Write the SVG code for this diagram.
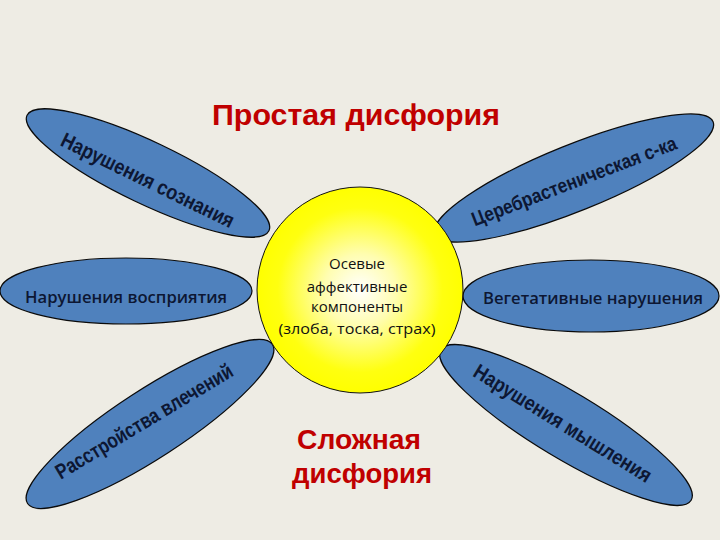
<svg xmlns="http://www.w3.org/2000/svg" width="720" height="540" viewBox="0 0 720 540">
<defs>
<radialGradient id="sun" cx="50%" cy="50%" r="50%">
<stop offset="0" stop-color="#ffffff"/>
<stop offset="0.35" stop-color="#fffdb0"/>
<stop offset="0.8" stop-color="#ffff10"/>
<stop offset="1" stop-color="#ffff00"/>
</radialGradient>
<style>
.petal{fill:#4f81bd;stroke:#0a0a0a;stroke-width:1.2}
.pt{font-family:"Liberation Sans","DejaVu Sans",sans-serif;font-weight:bold;fill:#0d1733;text-anchor:middle;dominant-baseline:central}
.ht{font-family:"Open Sans","Liberation Sans",sans-serif;font-weight:600;fill:#0d1733;text-anchor:middle;dominant-baseline:central}
.title{font-family:"Liberation Sans","DejaVu Sans",sans-serif;font-weight:bold;fill:#c00000;text-anchor:middle}
.ct{font-family:"Open Sans","Liberation Sans",sans-serif;fill:#111;text-anchor:middle;font-size:15px}
</style>
</defs>
<rect width="720" height="540" fill="#eeece4"/>
<g id="petal-consciousness">
<ellipse class="petal" cx="148" cy="173" rx="134" ry="31" transform="rotate(25.5 148 173)"/>
<text class="pt" x="148" y="180" font-size="21" transform="rotate(26 148 180)" textLength="190" lengthAdjust="spacingAndGlyphs">Нарушения сознания</text>
</g>
<g id="petal-cerebrasthenic">
<ellipse class="petal" cx="574" cy="178" rx="150" ry="33" transform="rotate(-22 574 178)"/>
<text class="pt" x="574" y="181" font-size="20" transform="rotate(-21 574 181)" textLength="218" lengthAdjust="spacingAndGlyphs">Церебрастеническая с-ка</text>
</g>
<g id="petal-perception">
<ellipse class="petal" cx="126" cy="291" rx="126" ry="33"/>
<text class="ht" x="126" y="296" font-size="17" textLength="202" lengthAdjust="spacingAndGlyphs">Нарушения восприятия</text>
</g>
<g id="petal-vegetative">
<ellipse class="petal" cx="591" cy="296" rx="128" ry="36"/>
<text class="ht" x="593" y="297" font-size="17" textLength="220" lengthAdjust="spacingAndGlyphs">Вегетативные нарушения</text>
</g>
<g id="petal-drives">
<ellipse class="petal" cx="150" cy="424" rx="146" ry="34" transform="rotate(-33 150 424)"/>
<text class="pt" x="144" y="421" font-size="21" transform="rotate(-31 144 421)" textLength="203" lengthAdjust="spacingAndGlyphs">Расстройства влечений</text>
</g>
<g id="petal-thinking">
<ellipse class="petal" cx="566" cy="425" rx="146" ry="33" transform="rotate(31 566 425)"/>
<text class="pt" x="563" y="423" font-size="21" transform="rotate(31.7 563 423)" textLength="205" lengthAdjust="spacingAndGlyphs">Нарушения мышления</text>
</g>
<g id="center">
<circle cx="360" cy="290" r="103" fill="url(#sun)" stroke="#111" stroke-width="1"/>
<text class="ct" x="357" y="269">Осевые</text>
<text class="ct" x="357" y="292">аффективные</text>
<text class="ct" x="357" y="312">компоненты</text>
<text class="ct" x="357" y="334" textLength="157" lengthAdjust="spacingAndGlyphs">(злоба, тоска, страх)</text>
</g>
<g id="titles">
<text class="title" x="356" y="125" font-size="30" textLength="288" lengthAdjust="spacingAndGlyphs">Простая дисфория</text>
<text class="title" x="359" y="449" font-size="28" textLength="124" lengthAdjust="spacingAndGlyphs">Сложная</text>
<text class="title" x="362" y="483" font-size="28" textLength="140" lengthAdjust="spacingAndGlyphs">дисфория</text>
</g>
<g id="connectors"/>
</svg>
